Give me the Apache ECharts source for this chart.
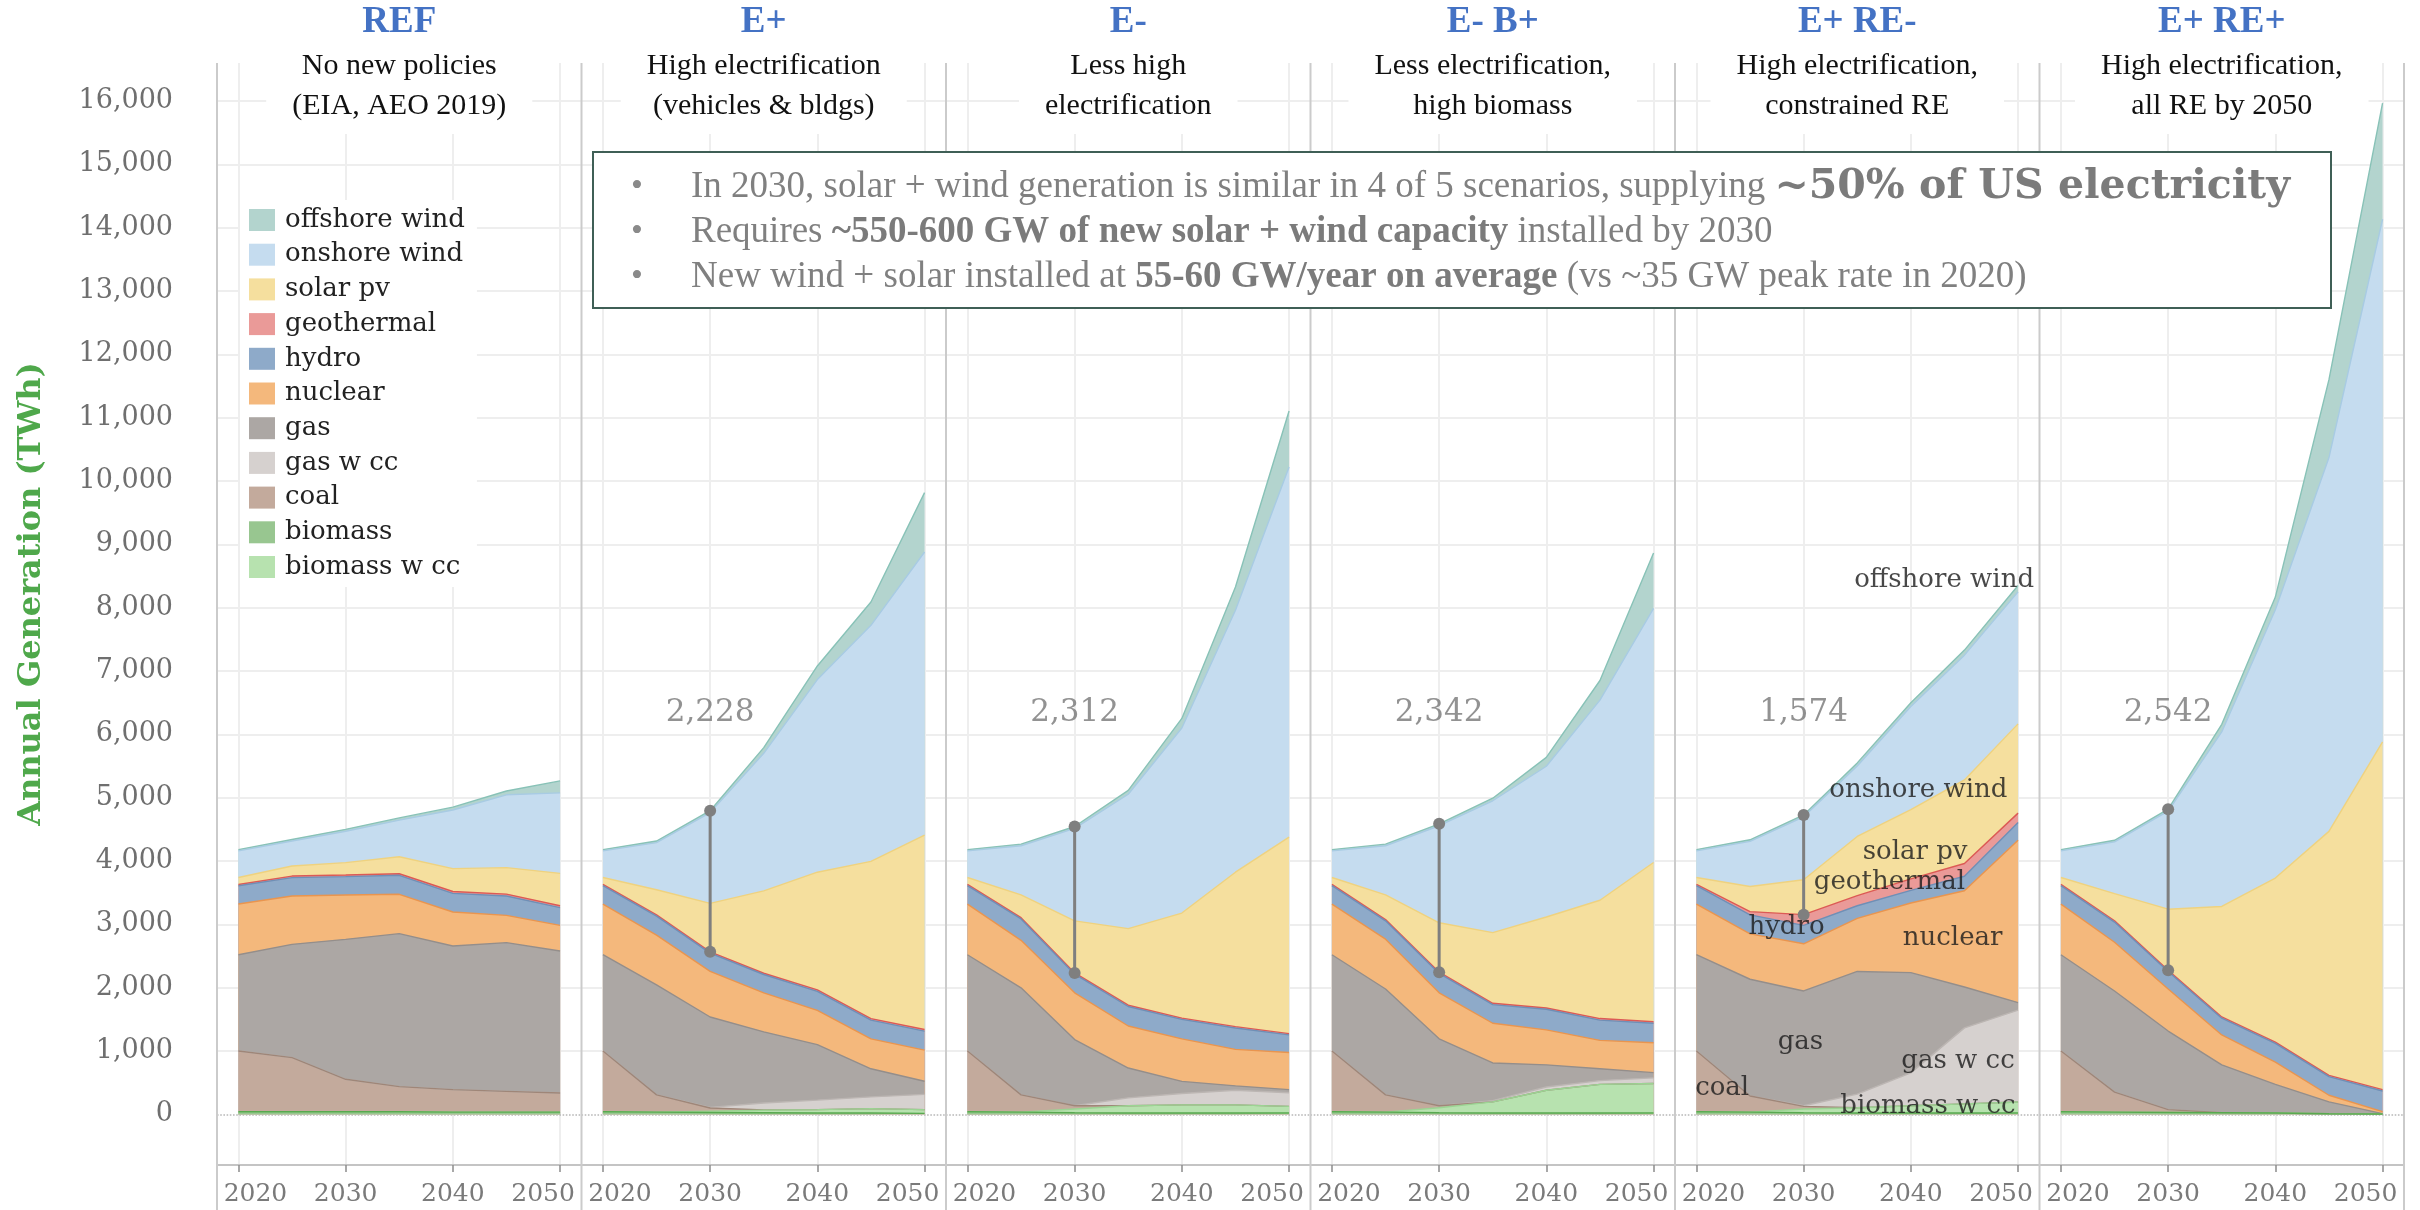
<!DOCTYPE html>
<html>
<head>
<meta charset="utf-8">
<script src="https://cdn.jsdelivr.net/npm/echarts@6/dist/echarts.min.js"></script>
<style>
html, body { margin: 0; padding: 0; background: #ffffff; }
#chart { width: 2420px; height: 1210px; }
</style>
</head>
<body>
<div id="chart"></div>
<script>
// ---- categories and ticks ----
const years = [2020, 2025, 2030, 2035, 2040, 2045, 2050];
const yearTicks = [2020, 2030, 2040, 2050];
const generationTicks = [0, 1000, 2000, 3000, 4000, 5000, 6000, 7000, 8000, 9000, 10000, 11000, 12000, 13000, 14000, 15000, 16000];
// stacking order, bottom to top
const sources = ['biomass', 'biomass w cc', 'coal', 'gas w cc', 'gas', 'nuclear', 'hydro', 'geothermal', 'solar pv', 'onshore wind', 'offshore wind'];
const legendOrder = ['offshore wind', 'onshore wind', 'solar pv', 'geothermal', 'hydro', 'nuclear', 'gas', 'gas w cc', 'coal', 'biomass', 'biomass w cc'];
const scenarioCodes = ['REF', 'E+', 'E-', 'E- B+', 'E+ RE-', 'E+ RE+'];
const scenarioNotes = [
  ['No new policies', '(EIA, AEO 2019)'],
  ['High electrification', '(vehicles & bldgs)'],
  ['Less high', 'electrification'],
  ['Less electrification,', 'high biomass'],
  ['High electrification,', 'constrained RE'],
  ['High electrification,', 'all RE by 2050']
];

// ---- annual generation, TWh ----
// REF
const REF_biomass    = [40, 40, 40, 40, 35, 35, 35];
const REF_biomassCC  = [0, 0, 0, 0, 0, 0, 0];
const REF_coal       = [960, 855, 513, 397, 355, 328, 302];
const REF_gasCC      = [0, 0, 0, 0, 0, 0, 0];
const REF_gas        = [1520, 1789, 2210, 2416, 2268, 2348, 2242];
const REF_nuclear    = [800, 763, 700, 621, 537, 431, 405];
const REF_hydro      = [290, 290, 290, 300, 294, 305, 279];
const REF_geothermal = [20, 25, 25, 25, 30, 30, 30];
const REF_solar      = [110, 159, 196, 269, 360, 418, 512];
const REF_onshore    = [420, 394, 496, 577, 926, 1150, 1270];
const REF_offshore   = [20, 25, 30, 35, 45, 60, 190];
// E+
const EP_biomass    = [40, 35, 30, 25, 20, 20, 15];
const EP_biomassCC  = [0, 0, 20, 40, 55, 70, 60];
const EP_coal       = [960, 272, 50, 5, 0, 0, 0];
const EP_gasCC      = [0, 0, 10, 110, 150, 185, 240];
const EP_gas        = [1520, 1736, 1427, 1123, 875, 444, 207];
const EP_nuclear    = [800, 786, 719, 615, 541, 473, 492];
const EP_hydro      = [290, 300, 290, 290, 300, 295, 300];
const EP_geothermal = [20, 20, 20, 20, 25, 25, 25];
const EP_solar      = [110, 397, 765, 1300, 1857, 2483, 3068];
const EP_onshore    = [420, 744, 1433, 2172, 3042, 3726, 4472];
const EP_offshore   = [20, 25, 30, 90, 215, 368, 937];
// E-
const EM_biomass    = [40, 35, 25, 20, 20, 20, 20];
const EM_biomassCC  = [0, 0, 60, 115, 130, 130, 105];
const EM_coal       = [960, 272, 50, 0, 0, 0, 0];
const EM_gasCC      = [0, 0, 0, 125, 180, 230, 215];
const EM_gas        = [1520, 1690, 1045, 471, 190, 70, 50];
const EM_nuclear    = [800, 750, 738, 664, 672, 576, 587];
const EM_hydro      = [290, 338, 295, 308, 308, 338, 277];
const EM_geothermal = [20, 20, 20, 20, 20, 20, 20];
const EM_solar      = [110, 361, 822, 1209, 1658, 2439, 3102];
const EM_onshore    = [420, 775, 1460, 2122, 2923, 4135, 5845];
const EM_offshore   = [20, 25, 30, 60, 150, 368, 884];
// E- B+
const EMBP_biomass    = [40, 35, 25, 20, 20, 20, 20];
const EMBP_biomassCC  = [0, 0, 80, 177, 361, 453, 466];
const EMBP_coal       = [960, 272, 30, 0, 0, 0, 0];
const EMBP_gasCC      = [0, 0, 0, 20, 50, 60, 90];
const EMBP_gas        = [1520, 1672, 1057, 594, 350, 186, 82];
const EMBP_nuclear    = [800, 787, 726, 627, 553, 449, 473];
const EMBP_hydro      = [290, 289, 307, 295, 325, 319, 307];
const EMBP_geothermal = [20, 20, 20, 20, 20, 25, 25];
const EMBP_solar      = [110, 391, 779, 1117, 1437, 1868, 2514];
const EMBP_onshore    = [420, 775, 1533, 2081, 2380, 3160, 4012];
const EMBP_offshore   = [20, 25, 30, 40, 140, 310, 874];
// E+ RE-
const EPREM_biomass    = [40, 35, 25, 20, 20, 20, 20];
const EPREM_biomassCC  = [0, 0, 60, 85, 115, 145, 175];
const EPREM_coal       = [960, 255, 40, 0, 0, 0, 0];
const EPREM_gasCC      = [0, 0, 10, 215, 520, 1200, 1450];
const EPREM_gas        = [1520, 1843, 1813, 1936, 1582, 645, 119];
const EPREM_nuclear    = [800, 717, 745, 837, 1100, 1520, 2562];
const EPREM_hydro      = [290, 300, 290, 200, 200, 230, 280];
const EPREM_geothermal = [20, 50, 170, 160, 180, 200, 150];
const EPREM_solar      = [110, 397, 550, 935, 1093, 1320, 1409];
const EPREM_onshore    = [420, 713, 994, 1111, 1628, 1970, 2085];
const EPREM_offshore   = [20, 25, 30, 50, 60, 80, 100];
// E+ RE+
const EPREP_biomass    = [40, 35, 30, 25, 20, 10, 5];
const EPREP_biomassCC  = [0, 0, 0, 0, 0, 0, 0];
const EPREP_coal       = [960, 315, 44, 0, 0, 0, 0];
const EPREP_gasCC      = [0, 0, 0, 0, 0, 0, 0];
const EPREP_gas        = [1520, 1598, 1241, 756, 453, 187, 7];
const EPREP_nuclear    = [800, 769, 664, 473, 351, 104, 31];
const EPREP_hydro      = [290, 319, 277, 264, 295, 295, 326];
const EPREP_geothermal = [20, 20, 20, 20, 20, 20, 20];
const EPREP_solar      = [110, 429, 963, 1744, 2592, 3852, 5493];
const EPREP_onshore    = [420, 817, 1549, 2756, 4236, 5902, 8251];
const EPREP_offshore   = [20, 25, 30, 120, 200, 1230, 1834];

// rows follow the `sources` stacking order
const scenarioTables = [
  [REF_biomass, REF_biomassCC, REF_coal, REF_gasCC, REF_gas, REF_nuclear, REF_hydro, REF_geothermal, REF_solar, REF_onshore, REF_offshore],
  [EP_biomass, EP_biomassCC, EP_coal, EP_gasCC, EP_gas, EP_nuclear, EP_hydro, EP_geothermal, EP_solar, EP_onshore, EP_offshore],
  [EM_biomass, EM_biomassCC, EM_coal, EM_gasCC, EM_gas, EM_nuclear, EM_hydro, EM_geothermal, EM_solar, EM_onshore, EM_offshore],
  [EMBP_biomass, EMBP_biomassCC, EMBP_coal, EMBP_gasCC, EMBP_gas, EMBP_nuclear, EMBP_hydro, EMBP_geothermal, EMBP_solar, EMBP_onshore, EMBP_offshore],
  [EPREM_biomass, EPREM_biomassCC, EPREM_coal, EPREM_gasCC, EPREM_gas, EPREM_nuclear, EPREM_hydro, EPREM_geothermal, EPREM_solar, EPREM_onshore, EPREM_offshore],
  [EPREP_biomass, EPREP_biomassCC, EPREP_coal, EPREP_gasCC, EPREP_gas, EPREP_nuclear, EPREP_hydro, EPREP_geothermal, EPREP_solar, EPREP_onshore, EPREP_offshore]
];

// ---- styling ----
const fills = {
  'offshore wind': '#b3d4ce', 'onshore wind': '#c5dcef', 'solar pv': '#f5df9e', 'geothermal': '#ea9a98',
  'hydro': '#8eaac9', 'nuclear': '#f4b87c', 'gas': '#aca7a4', 'gas w cc': '#d6d1cf', 'coal': '#c3aa9c',
  'biomass': '#98c690', 'biomass w cc': '#b7e2af'
};
const edges = {
  'offshore wind': '#88c2b7', 'onshore wind': '#a8cbe3', 'solar pv': '#efd27f', 'geothermal': '#dc5a55',
  'hydro': '#6f8fb6', 'nuclear': '#e9954f', 'gas': '#948e8b', 'gas w cc': '#bcb6b3', 'coal': '#9f8678',
  'biomass': '#58a94f', 'biomass w cc': '#9bd493'
};
const serifWide = 'DejaVu Serif';
const serifNarrow = 'Liberation Serif';
const panelLeft = 217;
const panelWidth = 364.5;
const plotTop = 63;
const plotHeight = 1102;
const gapLabelLevel = 6330;       // height at which the 2030 spread is written
const spreadYear = 2030;
const spreadIndex = years.indexOf(spreadYear);

// in-panel name tags for the constrained-RE scenario: [text, year, TWh]
const reMinusTags = [
  ['offshore wind', 2043.1, 8440],
  ['onshore wind', 2040.7, 5124],
  ['solar pv', 2040.4, 4145],
  ['geothermal', 2038.0, 3671],
  ['hydro', 2028.4, 2961],
  ['nuclear', 2043.9, 2787],
  ['gas', 2029.7, 1145],
  ['gas w cc', 2044.4, 845],
  ['coal', 2022.4, 418],
  ['biomass w cc', 2041.6, 134]
];

// year labels at the panel edges are nudged inward so neighbours don't collide
const yearLabelRich = {
  lo: { fontFamily: serifWide, fontSize: 25, color: '#7a7a7a', padding: [0, 0, 0, 34] },
  mid: { fontFamily: serifWide, fontSize: 25, color: '#7a7a7a' },
  hi: { fontFamily: serifWide, fontSize: 25, color: '#7a7a7a', padding: [0, 34, 0, 0] }
};

const grids = [], xAxes = [], yAxes = [], series = [], titles = [];

scenarioCodes.forEach((code, i) => {
  const left = panelLeft + panelWidth * i;
  grids.push({ left: left, top: plotTop, width: panelWidth, height: plotHeight, containLabel: false });

  xAxes.push({
    type: 'value', gridIndex: i, min: 2018, max: 2052,
    axisLine: { show: true, onZero: false, lineStyle: { color: '#c4c4c4', width: 2 } },
    axisTick: { show: true, customValues: yearTicks, length: 7, lineStyle: { color: '#8c8c8c', width: 1.5 } },
    axisLabel: {
      show: true, customValues: yearTicks, margin: 17,
      fontFamily: serifWide, fontSize: 25, color: '#7a7a7a',
      rich: yearLabelRich,
      formatter: v => {
        const key = v === yearTicks[0] ? 'lo' : (v === yearTicks[yearTicks.length - 1] ? 'hi' : 'mid');
        return '{' + key + '|' + v + '}';
      }
    },
    splitLine: { show: true, lineStyle: { color: '#eeeeee', width: 2 } }
  });

  yAxes.push({
    type: 'value', gridIndex: i, min: -800, max: 16600,
    axisLine: { show: false },
    axisTick: { show: false, customValues: generationTicks },
    axisLabel: {
      show: i === 0, customValues: generationTicks, margin: 44,
      fontFamily: serifWide, fontSize: 27, color: '#6f6f6f',
      formatter: v => v.toLocaleString('en-US')
    },
    splitLine: { show: true, showMinLine: false, lineStyle: { color: '#eeeeee', width: 2 } }
  });

  // running totals: layer j is drawn from 0 up to the sum of layers 0..j,
  // painted top layer first so each lower layer covers the part below it
  const table = scenarioTables[i];
  const running = [];
  table.forEach((row, j) => {
    running.push(row.map((v, k) => v + (j > 0 ? running[j - 1][k] : 0)));
  });
  for (let j = sources.length - 1; j >= 0; j--) {
    const src = sources[j];
    const s = {
      type: 'line', name: src, xAxisIndex: i, yAxisIndex: i,
      data: years.map((yr, k) => [yr, running[j][k]]),
      symbol: 'none', showSymbol: false, smooth: false,
      color: fills[src],
      itemStyle: { color: fills[src] },
      lineStyle: { color: edges[src], width: 1.4 },
      areaStyle: { color: fills[src], opacity: 1, origin: 0 },
      emphasis: { disabled: true }, silent: true, z: 2
    };
    if (j === 0) {
      s.markLine = {
        silent: true, symbol: 'none', z: 1, animation: false,
        label: { show: false },
        lineStyle: { type: 'dotted', color: '#b8b8b8', width: 1.6 },
        data: [{ yAxis: 0 }]
      };
    }
    series.push(s);
  }

  if (i > 0) {
    // solar + wind in 2030: from the top of geothermal to the top of offshore wind
    const below = running[7][spreadIndex];
    const top = running[sources.length - 1][spreadIndex];
    const spread = top - below;
    series.push({
      type: 'line', xAxisIndex: i, yAxisIndex: i,
      data: [[spreadYear, below], [spreadYear, top]],
      symbol: 'circle', symbolSize: 12, showSymbol: true,
      itemStyle: { color: '#7f7f7f' },
      lineStyle: { color: '#7f7f7f', width: 3 },
      emphasis: { disabled: true }, silent: true, z: 5
    });
    series.push({
      type: 'scatter', xAxisIndex: i, yAxisIndex: i,
      data: [[spreadYear, gapLabelLevel]], symbolSize: 1,
      itemStyle: { color: 'rgba(0,0,0,0)' },
      label: {
        show: true, position: 'inside', formatter: () => spread.toLocaleString('en-US'),
        fontFamily: serifWide, fontSize: 31, color: '#777777', textBorderWidth: 0
      },
      emphasis: { disabled: true }, silent: true, z: 6
    });
  }

  titles.push({
    text: code,
    subtext: scenarioNotes[i].join('\n'),
    left: left + panelWidth / 2 - 26,
    top: 2,
    textAlign: 'center',
    itemGap: 4,
    padding: [0, 26, 8, 26],
    backgroundColor: '#ffffff',
    textStyle: { fontFamily: serifNarrow, fontWeight: 'bold', fontSize: 37, color: '#4472c4', lineHeight: 40 },
    subtextStyle: { fontFamily: serifNarrow, fontSize: 30, color: '#111111', lineHeight: 40 }
  });
});

series.push({
  type: 'scatter', xAxisIndex: 4, yAxisIndex: 4, symbolSize: 1,
  itemStyle: { color: 'rgba(0,0,0,0)' },
  data: reMinusTags.map(t => ({ name: t[0], value: [t[1], t[2]] })),
  label: {
    show: true, position: 'inside', formatter: p => p.name,
    fontFamily: serifWide, fontSize: 26, color: '#1a1a1a', textBorderWidth: 0
  },
  emphasis: { disabled: true }, silent: true, z: 7
});

// panel separators
const graphics = [];
for (let i = 0; i <= scenarioCodes.length; i++) {
  const x = panelLeft + panelWidth * i;
  graphics.push({
    type: 'line', z: 10, silent: true,
    shape: { x1: x, y1: plotTop, x2: x, y2: 1210 },
    style: { stroke: '#cbcbcb', lineWidth: 2 }
  });
}
// axis title
graphics.push({
  type: 'text', z: 10, silent: true, x: 32, y: 594, rotation: Math.PI / 2,
  style: {
    text: 'Annual Generation (TWh)', fill: '#4fa84b', fontFamily: serifWide, fontWeight: 'bold',
    fontSize: 32, align: 'center', verticalAlign: 'middle'
  }
});
// key findings box
const boxLines = [
  [['n', 'In 2030, solar + wind generation is similar in 4 of 5 scenarios, supplying '], ['w', '~50% of US electricity']],
  [['n', 'Requires '], ['b', '~550-600 GW of new solar + wind capacity'], ['n', ' installed by 2030']],
  [['n', 'New wind + solar installed at '], ['b', '55-60 GW/year on average'], ['n', ' (vs ~35 GW peak rate in 2020)']]
];
graphics.push({
  type: 'rect', z: 10, silent: true,
  shape: { x: 593, y: 152, width: 1738, height: 156 },
  style: { fill: '#ffffff', stroke: '#3f5f56', lineWidth: 2 }
});
boxLines.forEach((parts, k) => {
  const y = 187 + 45 * k;
  graphics.push({
    type: 'text', z: 11, silent: true, x: 637, y: y,
    style: { text: '•', fill: '#8a8a8a', fontFamily: serifNarrow, fontSize: 34, align: 'center', verticalAlign: 'middle' }
  });
  graphics.push({
    type: 'text', z: 11, silent: true, x: 691, y: y,
    style: {
      text: parts.map(p => '{' + p[0] + '|' + p[1] + '}').join(''),
      verticalAlign: 'middle', align: 'left',
      rich: {
        n: { fontFamily: serifNarrow, fontSize: 37, fill: '#808080', color: '#808080' },
        b: { fontFamily: serifNarrow, fontSize: 37, fontWeight: 'bold', fill: '#7b7b7b', color: '#7b7b7b' },
        w: { fontFamily: serifWide, fontSize: 41, fontWeight: 'bold', fill: '#7b7b7b', color: '#7b7b7b' }
      }
    }
  });
});

const option = {
  animation: false,
  backgroundColor: '#ffffff',
  title: titles,
  grid: grids,
  xAxis: xAxes,
  yAxis: yAxes,
  legend: {
    orient: 'vertical', left: 240, top: 200, padding: [7, 12, 7, 9],
    backgroundColor: '#ffffff', selectedMode: false, icon: 'rect',
    itemWidth: 26, itemHeight: 22, itemGap: 8.7, z: 8,
    data: legendOrder.map(n => ({ name: n, icon: 'rect', itemStyle: { color: fills[n], borderWidth: 0 } })),
    textStyle: { fontFamily: serifWide, fontSize: 26, color: '#222222', lineHeight: 22, padding: [0, 0, 0, 5] }
  },
  graphic: graphics,
  series: series
};

const chart = echarts.init(document.getElementById('chart'), null, { renderer: 'canvas', width: 2420, height: 1210 });
chart.setOption(option);
</script>
</body>
</html>
